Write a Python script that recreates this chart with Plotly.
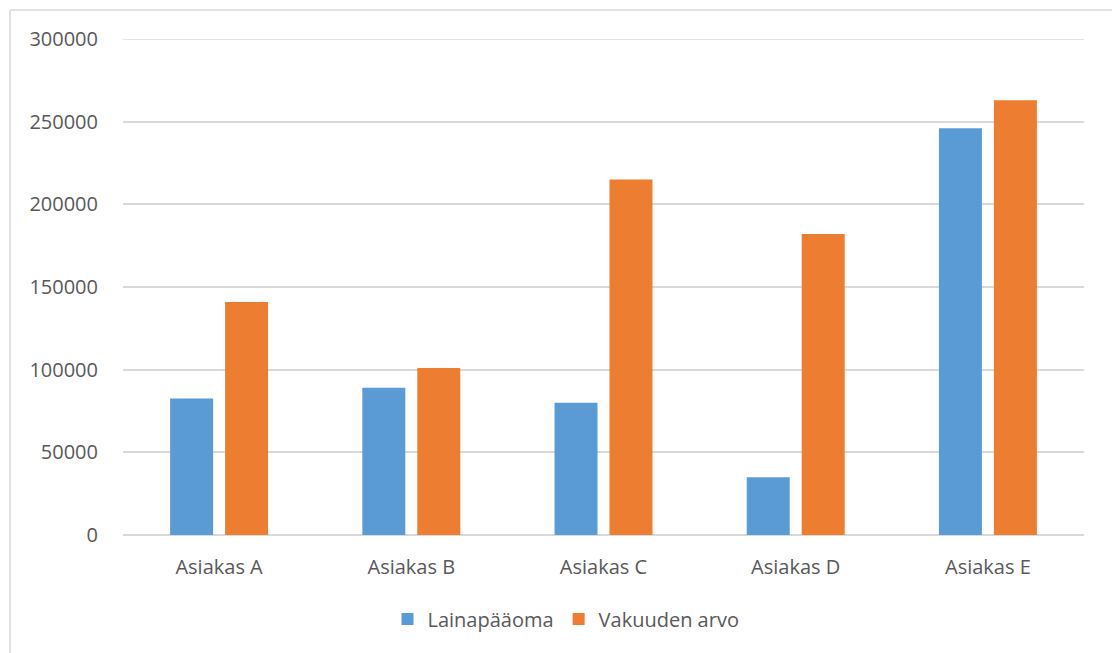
import plotly.graph_objects as go

# Chart data
customers = ["Asiakas A", "Asiakas B", "Asiakas C", "Asiakas D", "Asiakas E"]
loan_principal = [82500, 89000, 80000, 35000, 246000]
collateral_value = [141000, 101000, 215000, 182000, 263000]
tick_values = [0, 50000, 100000, 150000, 200000, 250000, 300000]

BLUE = "#5B9BD5"
ORANGE = "#ED7D31"
GRID = "#D9D9D9"
TEXT = "#595959"
FONT = "Open Sans, Lato, sans-serif"
FS = 20

W, H = 1112, 653
L, R, T, B = 123, 28, 39, 118

fig = go.Figure()
fig.add_trace(go.Bar(x=customers, y=loan_principal, name="Lainapääoma",
                     marker=dict(color=BLUE, line=dict(width=0))))
fig.add_trace(go.Bar(x=customers, y=collateral_value, name="Vakuuden arvo",
                     marker=dict(color=ORANGE, line=dict(width=0))))

def px_x(v):
    return (v - L) / (W - L - R)

def px_y(v):
    return (H - B - v) / (H - T - B)

# Outer chart frame (top and left edges visible)
fig.add_shape(type="line", xref="paper", yref="paper",
              x0=px_x(10), x1=px_x(W + 5), y0=px_y(10), y1=px_y(10),
              line=dict(color=GRID, width=1.5))
fig.add_shape(type="line", xref="paper", yref="paper",
              x0=px_x(10), x1=px_x(10), y0=px_y(10), y1=px_y(H + 5),
              line=dict(color=GRID, width=1.5))
# Top gridline at the axis maximum
fig.add_shape(type="line", xref="paper", yref="y",
              x0=0, x1=1, y0=tick_values[-1], y1=tick_values[-1],
              line=dict(color=GRID, width=1.5), layer="below")

fig.update_layout(
    width=W, height=H,
    margin=dict(l=L, r=R, t=T, b=B),
    paper_bgcolor="white", plot_bgcolor="white",
    barmode="group", bargap=0.428, bargroupgap=0.218,
    font=dict(family=FONT, size=FS, color=TEXT),
    showlegend=True,
    legend=dict(orientation="h", x=px_x(566), xanchor="center", y=px_y(619), yanchor="middle",
                font=dict(size=FS, color=TEXT), itemwidth=30, traceorder="normal"),
    xaxis=dict(showgrid=False, showline=False, zeroline=False, ticks="",
               ticklabelstandoff=18, tickfont=dict(size=FS, color=TEXT)),
    yaxis=dict(range=[0, 300000], tickvals=tick_values, tickformat="d",
               showgrid=True, gridcolor=GRID, gridwidth=1.5,
               zeroline=True, zerolinecolor=GRID, zerolinewidth=1.5,
               showline=False, ticks="", ticklabelstandoff=24,
               tickfont=dict(size=FS, color=TEXT)),
)

fig.write_html("out.html")
